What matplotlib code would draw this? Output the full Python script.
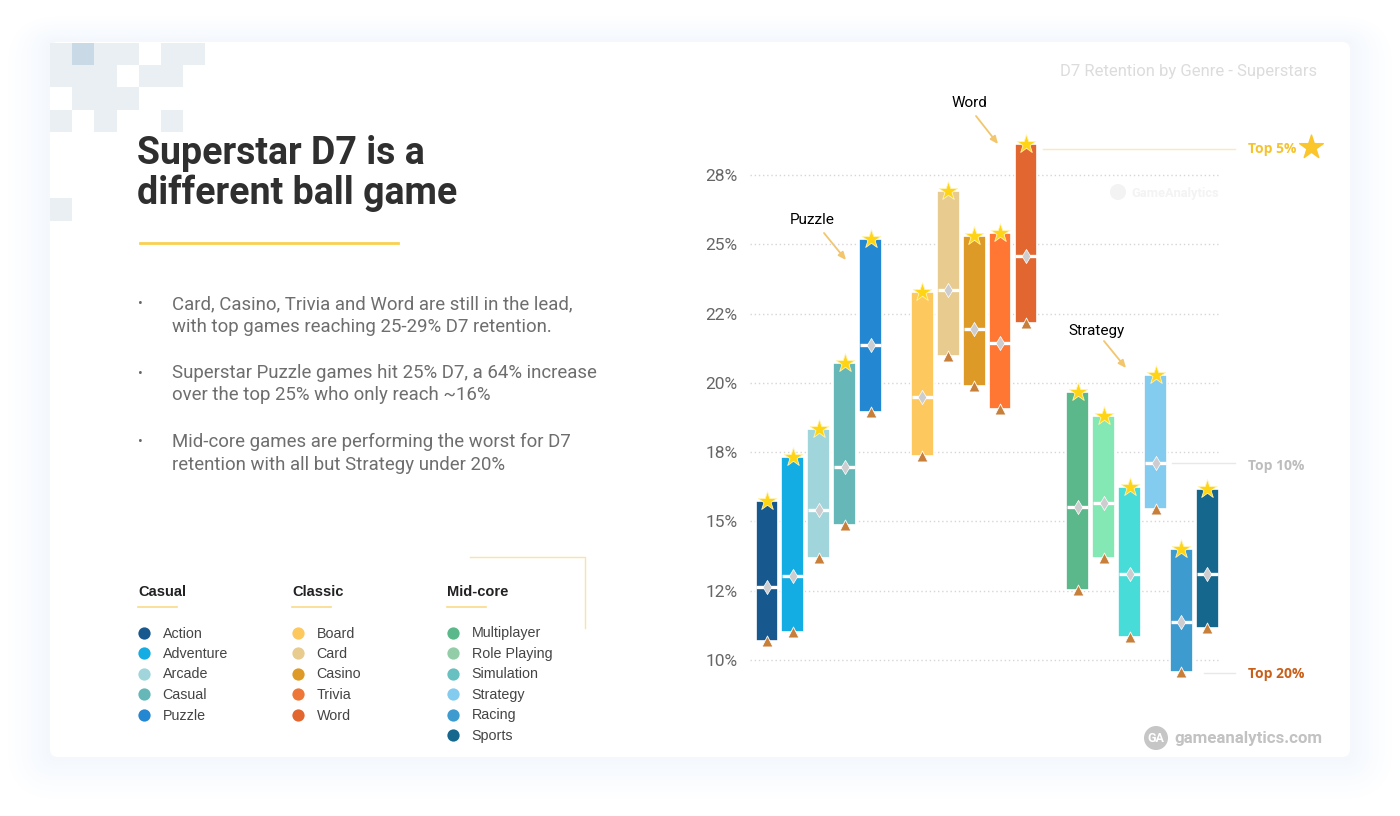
import matplotlib
matplotlib.use("Agg")
import matplotlib.pyplot as plt
from matplotlib.patches import FancyBboxPatch, Rectangle, Circle

# values, one group after the other
casual = ["Action", "Adventure", "Arcade", "Casual", "Puzzle"]
classic = ["Board", "Card", "Casino", "Trivia", "Word"]
midcore = ["Multiplayer", "Role Playing", "Simulation", "Strategy", "Racing", "Sports"]

top5 = [15.74, 17.32, 18.32, 20.71, 25.19,
        23.28, 26.92, 25.30, 25.40, 28.61,
        19.67, 18.80, 16.24, 20.28, 13.99, 16.17]
top10 = [12.62, 13.03, 15.41, 16.96, 21.36,
         19.49, 23.35, 21.94, 21.42, 24.56,
         15.52, 15.66, 13.10, 17.12, 11.37, 13.10]
top20 = [10.69, 11.01, 13.68, 14.87, 18.95,
         17.36, 20.97, 19.88, 19.05, 22.16,
         12.53, 13.68, 10.83, 15.45, 9.57, 11.15]

bar_colors = ["#17598e", "#14ade3", "#a0d6db", "#66b8b8", "#2387d1",
              "#fdc95f", "#e8cb8f", "#de9a26", "#ff7733", "#e26630",
              "#5ab88a", "#84e8b5", "#48dcd8", "#83ccef", "#3e9bd0", "#15678d"]
dot_colors = ["#17598e", "#14ade3", "#a0d6db", "#66b8b8", "#2387d1",
              "#fdc95f", "#e8cb8f", "#de9a26", "#ee7638", "#e26630",
              "#5ab88a", "#93cda8", "#68c0c0", "#83ccef", "#3e9bd0", "#15678d"]

y_ticks = [10, 12.5, 15, 17.5, 20, 22.5, 25, 27.5]
y_labels = ["10%", "12%", "15%", "18%", "20%", "22%", "25%", "28%"]

title_lines = ["Superstar D7 is a", "different ball game"]
body_lines = [
    ["Card, Casino, Trivia and Word are still in the lead,",
     "with top games reaching 25-29% D7 retention."],
    ["Superstar Puzzle games hit 25% D7, a 64% increase",
     "over the top 25% who only reach ~16%"],
    ["Mid-core games are performing the worst for D7",
     "retention with all but Strategy under 20%"],
]

fig = plt.figure(figsize=(14, 8.16), dpi=100, facecolor="white")

# page layer in pixel coordinates
bg = fig.add_axes([0, 0, 1, 1])
bg.set_xlim(0, 1400)
bg.set_ylim(816, 0)
bg.axis("off")

# soft shadow round the card
steps = 24
for i in range(steps, 0, -1):
    t = 1 - i / steps
    col = (1 - t * 0.045, 1 - t * 0.028, 1 - t * 0.007)
    grow = i * 1.9
    bg.add_patch(FancyBboxPatch((50 - grow, 42 - grow * 0.6), 1300 + 2 * grow, 715 + grow * 1.6,
                                boxstyle="round,pad=0,rounding_size=%f" % (8 + grow),
                                fc=col, ec="none"))
bg.add_patch(FancyBboxPatch((50, 42), 1300, 715, boxstyle="round,pad=0,rounding_size=8",
                            fc="white", ec="none"))

# pixel squares in the corner
cell = 22.2
squares = [(0, 0), (2, 0), (3, 0), (5, 0), (6, 0),
           (0, 1), (1, 1), (2, 1), (4, 1), (5, 1),
           (1, 2), (2, 2), (3, 2),
           (0, 3), (2, 3), (5, 3),
           (0, 7)]
for cx, cy in squares:
    bg.add_patch(Rectangle((50 + cx * cell, 43 + cy * cell), cell, cell, fc="#e9eff3", ec="none"))
bg.add_patch(Rectangle((50 + cell, 43), cell, cell, fc="#c9dae6", ec="none"))

# left column
for i, line in enumerate(title_lines):
    bg.text(137, 153 + i * 40, line, family="Roboto", weight="bold", fontsize=27,
            color="#2f2f2f", va="center", ha="left")
bg.plot([140, 398], [243, 243], color="#fbd050", lw=2)

y_pos = [[304.5, 327.5], [373.5, 395.5], [441.5, 464.5]]
for para, ys in zip(body_lines, y_pos):
    bg.text(140, ys[0], "•", family="Roboto", fontsize=10, color="#666666", va="center", ha="center")
    for line, y in zip(para, ys):
        bg.text(172, y, line, family="Roboto", fontsize=13.4, color="#6e6e6e", va="center", ha="left")

# legend
groups = [("Casual", casual, 138), ("Classic", classic, 292), ("Mid-core", midcore, 447)]
k = 0
for name, items, x0 in groups:
    bg.text(x0, 592, name, family="Liberation Sans", weight="bold", fontsize=10.5,
            color="#222222", va="center", ha="left")
    bg.plot([x0, x0 + 39], [607, 607], color="#fbd98a", lw=1.2)
    for j, item in enumerate(items):
        y = 632.5 + j * 20.5
        bg.scatter([x0 + 6], [y], s=78, color=dot_colors[k], linewidths=0)
        bg.text(x0 + 24.5, y + 1, item, family="Liberation Sans", fontsize=10.3,
                color="#444444", va="center", ha="left")
        k += 1

bg.plot([470, 585, 585], [557, 557, 628], color="#fbe3a6", lw=1)

# header, watermark, footer
bg.text(1317, 71.5, "D7 Retention by Genre - Superstars", family="Roboto", fontsize=12,
        color="#dcdcdc", va="center", ha="right")
bg.add_patch(Circle((1118, 192), 8, fc="#f3f3f3", ec="none"))
bg.text(1131, 193, "GameAnalytics", family="Roboto", weight="bold", fontsize=9.3,
        color="#f3f3f3", va="center", ha="left")
bg.add_patch(Circle((1156, 738), 12, fc="#c6c6c6", ec="none"))
bg.text(1156, 738, "GA", family="Roboto", weight="bold", fontsize=9, color="white",
        va="center", ha="center")
bg.text(1174, 738.5, "gameanalytics.com", family="Roboto", weight="bold", fontsize=12.2,
        color="#c2c2c2", va="center", ha="left")

# callouts and percentile labels
callouts = [("Puzzle", 812, 220, 824, 233, 846, 260),
            ("Word", 969, 103, 976, 116, 998, 144),
            ("Strategy", 1097, 331, 1104, 341, 1126, 368)]
for label, tx, ty, x1, y1, x2, y2 in callouts:
    bg.text(tx, ty, label, family="Roboto", fontsize=11, color="black", va="center", ha="center")
    bg.annotate("", xy=(x2, y2), xytext=(x1, y1),
                arrowprops=dict(arrowstyle="-|>,head_width=0.2,head_length=0.45",
                                color="#f2c66d", lw=1.3, shrinkA=0, shrinkB=0))

bg.plot([1043, 1235], [149, 149], color="#fbeab8", lw=1)
bg.plot([1172, 1235], [463, 463], color="#e8e8e8", lw=1)
bg.plot([1204, 1235], [673, 673], color="#e8e8e8", lw=1)
bg.text(1248, 149, "Top 5%", family="Open Sans", weight="bold", fontsize=10, color="#f5c32c",
        va="center", ha="left")
bg.text(1248, 466, "Top 10%", family="Open Sans", weight="bold", fontsize=10, color="#bdbdbd",
        va="center", ha="left")
bg.text(1248, 674, "Top 20%", family="Open Sans", weight="bold", fontsize=10, color="#c9601a",
        va="center", ha="left")
bg.scatter([1311], [147], marker="*", s=320, color="#fbc52c", edgecolor="#fbc52c", linewidths=1,
           zorder=3)

# the chart itself
ax = fig.add_axes([750 / 1400, 1 - 690 / 816, 470 / 1400, 560 / 816])
ax.patch.set_alpha(0)
ax.set_xlim(-0.656, 17.49)
ax.set_ylim(8.92, 29.12)
for s in ax.spines.values():
    s.set_visible(False)
ax.set_yticks(y_ticks)
ax.set_yticklabels(y_labels, family="Roboto", fontsize=12.5, color="#666666")
ax.set_xticks([])
ax.tick_params(axis="y", length=0, pad=9)
ax.grid(axis="y", color="#d6d6d6", lw=1, ls=(0, (1, 2)))
ax.set_axisbelow(True)

slots = []
pos = 0
for _, items, _ in groups:
    for _ in items:
        slots.append(pos)
        pos += 1
    pos += 1

ax.bar(slots, [t - b for t, b in zip(top5, top20)], bottom=top20, width=0.88,
       color=bar_colors, edgecolor="white", linewidth=1.2, zorder=2)
ax.hlines(top10, [s - 0.41 for s in slots], [s + 0.41 for s in slots], color="white", lw=2.4, zorder=3)
ax.scatter(slots, top10, marker="d", s=52, color="#cdcdd0", edgecolor="white", linewidths=0.5, zorder=4,
           clip_on=False)
ax.scatter(slots, top5, marker="*", s=200, color="#ffd414", edgecolor="#fff3b8", linewidths=0.6, zorder=5,
           clip_on=False)
ax.scatter(slots, top20, marker="^", s=62, color="#c87f3a", edgecolor="white", linewidths=0.6, zorder=5,
           clip_on=False)

fig.savefig("out.png", dpi=100)
